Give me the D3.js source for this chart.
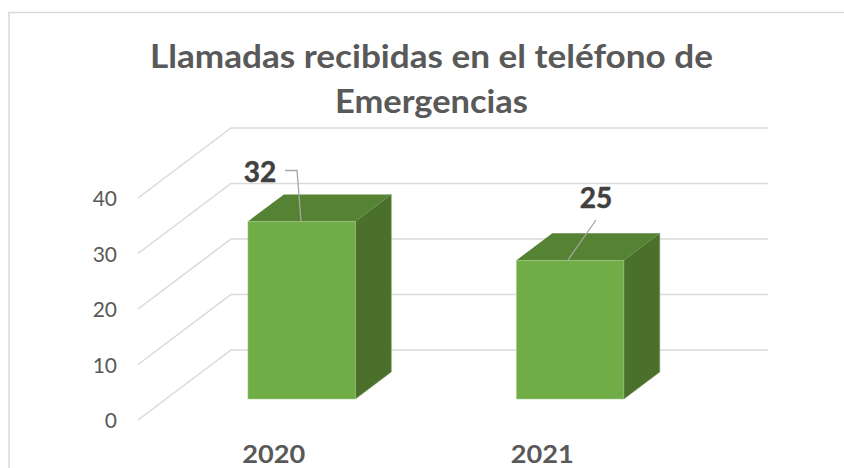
<!DOCTYPE html>
<html><head><meta charset="utf-8">
<script src="https://cdn.jsdelivr.net/npm/d3@7/dist/d3.min.js"></script>
<style>html,body{margin:0;padding:0;background:#fff}svg{display:block}text{font-family:Lato,"Open Sans",sans-serif}</style>
</head><body><svg id="c" width="844" height="468"></svg>
<script>
const categories = ["2020","2021"];
const values = [32,25];
const yTicks = [0,10,20,30,40];
const titleLines = ["Llamadas recibidas en el teléfono de","Emergencias"];

const svg = d3.select("#c");
svg.append("path").attr("d","M9,468V12.5H844").attr("fill","none").attr("stroke","#d9d9d9").attr("stroke-width",1.5);

const titleWidths = [563,193];
svg.append("g").selectAll("text").data(titleLines).join("text")
  .attr("x",431.5).attr("y",(d,i)=>68+i*45).attr("text-anchor","middle")
  .attr("textLength",(d,i)=>titleWidths[i]).attr("lengthAdjust","spacingAndGlyphs")
  .attr("font-size",33).attr("font-weight",700).attr("fill","#595959").text(d=>d);

const y = d3.scaleLinear().domain([0,40]).range([420,198]);
const x = d3.scaleBand().domain(categories).range([139.5,676.5]).paddingInner(0.6).paddingOuter(0.3);
const depth = {dx:93,dy:-70};
const zFront = 0.3, zBack = 0.686;
const backX = 768;

const grid = svg.append("g").attr("fill","none").attr("stroke","#d9d9d9").attr("stroke-width",1.5);
grid.selectAll("path").data(yTicks).join("path")
  .attr("d",d=>`M138,${y(d)}L${138+depth.dx},${y(d)+depth.dy}H${backX}`);

svg.append("g").selectAll("text").data(yTicks).join("text")
  .attr("x",117).attr("y",d=>y(d)+8).attr("text-anchor","end")
  .attr("font-size",21).attr("fill","#595959").text(d=>d);

const bars = svg.append("g").selectAll("g").data(categories.map((c,i)=>({c,v:values[i]}))).join("g");
const X = (d,z,side)=>x(d.c)+side*x.bandwidth()+z*depth.dx;
const Y = (v,z)=>y(v)+z*depth.dy;
bars.append("path").attr("fill","#4a702c").attr("stroke","#6f9a55").attr("stroke-width",.6)
  .attr("d",d=>`M${X(d,zFront,1)},${Y(0,zFront)}L${X(d,zBack,1)},${Y(0,zBack)}L${X(d,zBack,1)},${Y(d.v,zBack)}L${X(d,zFront,1)},${Y(d.v,zFront)}Z`);
bars.append("path").attr("fill","#568234")
  .attr("d",d=>`M${X(d,zFront,0)},${Y(d.v,zFront)}L${X(d,zBack,0)},${Y(d.v,zBack)}L${X(d,zBack,1)},${Y(d.v,zBack)}L${X(d,zFront,1)},${Y(d.v,zFront)}Z`);
bars.append("rect").attr("fill","#70ad47").attr("stroke","#a3c98c").attr("stroke-width",.5)
  .attr("x",d=>X(d,zFront,0)).attr("y",d=>Y(d.v,zFront))
  .attr("width",x.bandwidth()).attr("height",d=>Y(0,zFront)-Y(d.v,zFront));

const leaders = ["M285,170.5H297L301,221","M596,220L568,260"];
svg.append("g").selectAll("path").data(leaders).join("path")
  .attr("d",d=>d).attr("fill","none").attr("stroke","#a6a6a6").attr("stroke-width",1.3);
const labelPos = [[260,182],[596,208]];
svg.append("g").selectAll("text").data(values).join("text")
  .attr("x",(d,i)=>labelPos[i][0]).attr("y",(d,i)=>labelPos[i][1]).attr("text-anchor","middle")
  .attr("font-size",28).attr("font-weight",700).attr("fill","#404040")
  .attr("stroke","#404040").attr("stroke-width",.5).text(d=>d);

svg.append("g").selectAll("text").data(categories).join("text")
  .attr("x",d=>x(d)+x.bandwidth()/2).attr("y",462.5).attr("text-anchor","middle")
  .attr("textLength",63).attr("lengthAdjust","spacingAndGlyphs")
  .attr("font-size",24).attr("font-weight",700).attr("fill","#595959").text(d=>d);
</script></body></html>
